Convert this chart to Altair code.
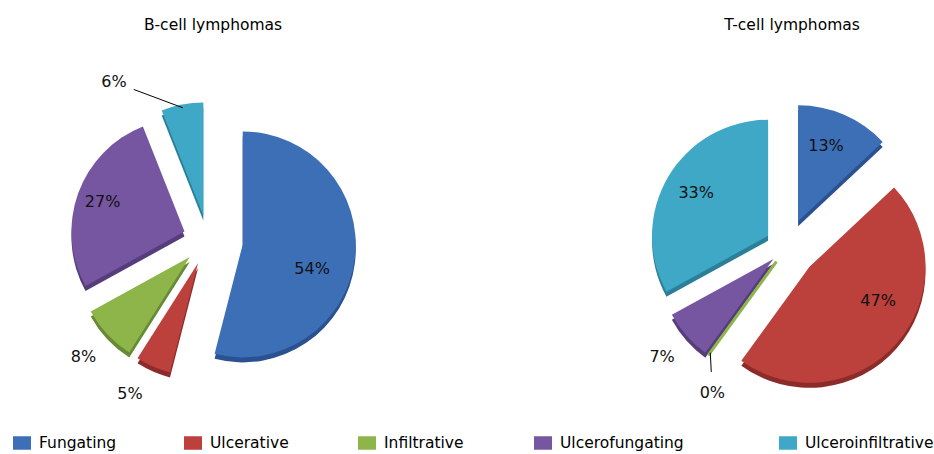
import altair as alt
import pandas as pd

# ---------------- data ----------------
categories = ["Fungating", "Ulcerative", "Infiltrative", "Ulcerofungating", "Ulceroinfiltrative"]
panels = ["B-cell lymphomas", "T-cell lymphomas"]
b_cell_pct = [54, 5, 8, 27, 6]
t_cell_pct = [13, 47, 0, 7, 33]

# ---------------- style / layout ----------------
colors = ["#3D6FB6", "#BC403C", "#8EB54A", "#7656A0", "#3FA8C6"]
side_colors = ["#2A5190", "#8C2C2A", "#678A36", "#553C7A", "#2B7F98"]
pie_center = {"B-cell lymphomas": (208, 240), "T-cell lymphomas": (787, 247)}
pie_radius = {"B-cell lymphomas": 113, "T-cell lymphomas": 116}
explode = {"B-cell lymphomas": [35, 25, 25, 25, 25], "T-cell lymphomas": [28, 30, 18, 18, 22]}
label_r = {"B-cell lymphomas": [0.65, 1.31, 1.29, 0.77, 1.42], "T-cell lymphomas": [0.69, 0.66, 1.26, 1.28, 0.72]}
label_nudge = {"B-cell lymphomas": [12, 4, 0, 0, -23], "T-cell lymphomas": [-3, -15, -10, 0, 0]}
leader = {"B-cell lymphomas": [0, 0, 0, 0, 1], "T-cell lymphomas": [0, 0, 1, 0, 0]}
legend_centers = [22, 193, 367, 543, 788]
FONT = "DejaVu Sans"

rows = []
for panel, vals in zip(panels, [b_cell_pct, t_cell_pct]):
    for i, (cat, v) in enumerate(zip(categories, vals)):
        rows.append(dict(panel=panel, category=cat, value=v, order=i,
                         cx=pie_center[panel][0], cy=pie_center[panel][1], R=pie_radius[panel],
                         ex=explode[panel][i], lr=label_r[panel][i], nudge=label_nudge[panel][i],
                         leader=leader[panel][i], label=f"{v}%"))
df = pd.DataFrame(rows)
legend_df = pd.DataFrame({"category": categories, "kx": legend_centers})

base = (
    alt.Chart(df)
    .transform_window(cum="sum(value)", groupby=["panel"], sort=[alt.SortField("order")], frame=[None, 0])
    .transform_calculate(t1="datum.cum / 100 * 2 * PI")
    .transform_calculate(t0="(datum.cum - datum.value) / 100 * 2 * PI")
    .transform_calculate(mid="(datum.t0 + datum.t1) / 2")
    .transform_calculate(ax="datum.cx + datum.ex * sin(datum.mid)")
    .transform_calculate(ay="datum.cy - datum.ex * cos(datum.mid)")
    .transform_calculate(sy="datum.ay + 5")
    .transform_calculate(la="datum.mid + datum.nudge * PI / 180")
    .transform_calculate(lx="datum.ax + datum.lr * datum.R * sin(datum.la)")
    .transform_calculate(ly="datum.ay - datum.lr * datum.R * cos(datum.la)")
    .transform_calculate(ex0="datum.ax + 0.97 * datum.R * sin(datum.mid)")
    .transform_calculate(ey0="datum.ay - 0.97 * datum.R * cos(datum.mid)")
    .transform_calculate(dd="sqrt(pow(datum.ex0 - datum.lx, 2) + pow(datum.ey0 - datum.ly, 2))")
    .transform_calculate(lex="datum.lx + 21 * (datum.ex0 - datum.lx) / datum.dd")
    .transform_calculate(ley="datum.ly + 21 * (datum.ey0 - datum.ly) / datum.dd")
    .transform_calculate(tx="datum.cx + 5")
)

color_scale = alt.Scale(domain=categories, range=colors)

shadow = base.mark_arc().encode(
    x=alt.X("ax:Q", scale=None),
    y=alt.Y("sy:Q", scale=None),
    theta=alt.Theta("t0:Q", scale=None),
    theta2=alt.Theta2("t1:Q"),
    radius=alt.Radius("R:Q", scale=None),
    fill=alt.Fill("category:N", scale=alt.Scale(domain=categories, range=side_colors), legend=None),
)

slices = base.mark_arc().encode(
    x=alt.X("ax:Q", scale=None),
    y=alt.Y("ay:Q", scale=None),
    theta=alt.Theta("t0:Q", scale=None),
    theta2=alt.Theta2("t1:Q"),
    radius=alt.Radius("R:Q", scale=None),
    color=alt.Color("category:N", scale=color_scale, legend=None),
)

zero_line = base.transform_filter("datum.value == 0").mark_arc(filled=False, strokeWidth=3).encode(
    x=alt.X("ax:Q", scale=None),
    y=alt.Y("ay:Q", scale=None),
    theta=alt.Theta("t0:Q", scale=None),
    theta2=alt.Theta2("t1:Q"),
    radius=alt.Radius("R:Q", scale=None),
    color=alt.Color("category:N", scale=color_scale, legend=None),
)

leaders = base.transform_filter("datum.leader == 1").mark_rule(color="#000000", strokeWidth=1).encode(
    x=alt.X("ex0:Q", scale=None),
    y=alt.Y("ey0:Q", scale=None),
    x2="lex:Q",
    y2="ley:Q",
)

labels = base.mark_text(font=FONT, fontSize=16, color="#111111", align="center", baseline="middle").encode(
    x=alt.X("lx:Q", scale=None),
    y=alt.Y("ly:Q", scale=None),
    text="label:N",
)

titles = base.transform_filter("datum.order == 0").mark_text(
    font=FONT, fontSize=15.5, color="#000000", align="center", baseline="middle"
).encode(
    x=alt.X("tx:Q", scale=None),
    y=alt.value(25),
    text="panel:N",
)

legend_keys = alt.Chart(legend_df).mark_point(
    shape="M-1,-0.75H1V0.75H-1Z", size=324, filled=True, opacity=1, strokeWidth=0
).encode(
    x=alt.X("kx:Q", scale=None),
    y=alt.value(443),
    color=alt.Color("category:N", scale=color_scale, legend=None),
)
legend_text = alt.Chart(legend_df).mark_text(
    font=FONT, fontSize=15.5, color="#000000", align="left", baseline="middle", dx=17
).encode(
    x=alt.X("kx:Q", scale=None),
    y=alt.value(443),
    text="category:N",
)

chart = (
    alt.layer(shadow, slices, zero_line, leaders, labels, titles, legend_keys, legend_text)
    .resolve_scale(fill="independent")
    .properties(width=934, height=454, padding=0, autosize=alt.AutoSizeParams(type="none"), background="white")
    .configure_view(stroke=None)
)

chart.save("out.html", embed_options={"renderer": "svg", "actions": False})
